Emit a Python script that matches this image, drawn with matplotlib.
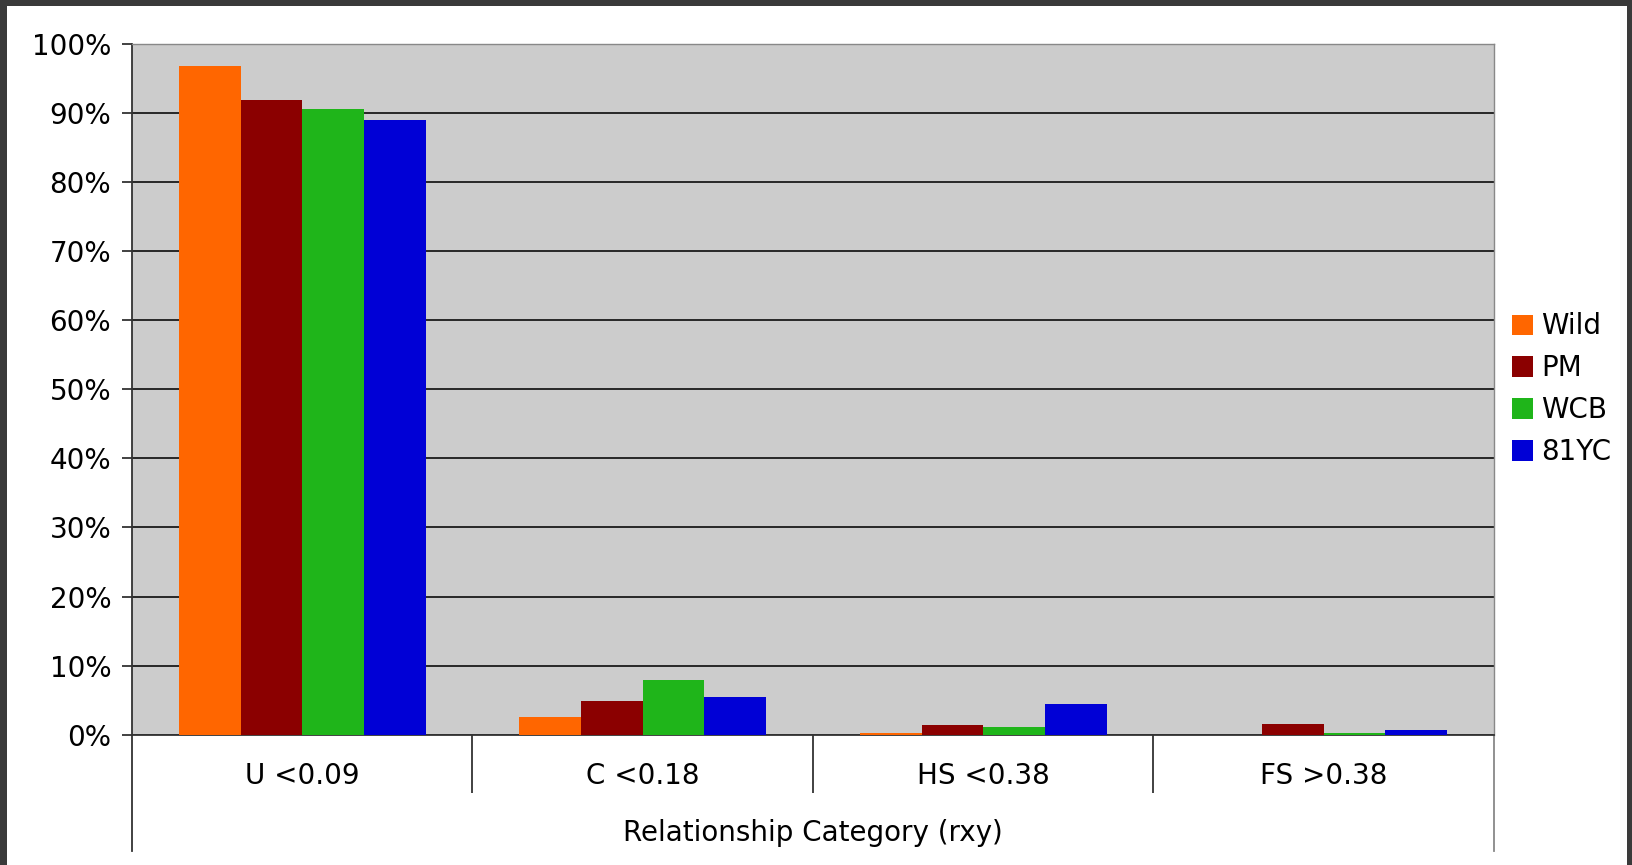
import matplotlib.pyplot as plt
from matplotlib.patches import Rectangle
from matplotlib.lines import Line2D
import numpy as np

categories = ['U <0.09', 'C <0.18', 'HS <0.38', 'FS >0.38']
series = ['Wild', 'PM', 'WCB', '81YC']
wild = [96.8, 2.5, 0.2, 0.0]
pm = [91.8, 4.9, 1.35, 1.6]
wcb = [90.6, 7.9, 1.1, 0.2]
yc81 = [89.0, 5.4, 4.4, 0.7]
colors = ['#ff6600', '#8b0000', '#1fb51a', '#0000d6']

W, H = 1633, 865
fig = plt.figure(figsize=(W / 100, H / 100), dpi=100, facecolor='#3a3a3a')
# white page inside the dark border
fig.patches.append(Rectangle((7 / W, 0), (1627 - 7) / W, (H - 6) / H,
                             transform=fig.transFigure, facecolor='white',
                             edgecolor='none', zorder=-10))

x0, x1, y0, y1 = 132, 1494, 734.7, 43.7
ax = fig.add_axes([x0 / W, (H - y0) / H, (x1 - x0) / W, (y0 - y1) / H])
ax.set_facecolor('#cccccc')

x = np.arange(len(categories))
bw = 0.181
for i, (name, vals) in enumerate(zip(series, [wild, pm, wcb, yc81])):
    ax.bar(x + (i - 1.5) * bw, vals, width=bw, color=colors[i], label=name,
           zorder=3, linewidth=0)

ax.set_xlim(-0.5, 3.5)
ax.set_ylim(0, 100)
ax.set_yticks(np.arange(0, 101, 10))
ax.set_yticklabels([f'{v}%' for v in range(0, 101, 10)], fontsize=20)
ax.yaxis.grid(True, color='#1a1a1a', linewidth=1.3, zorder=1)
ax.set_axisbelow(True)
ax.tick_params(axis='y', length=7, width=1.3, color='#333333', pad=8)

# two-level category axis
ax.set_xticks([0.5, 1.5, 2.5])
ax.set_xticklabels([])
ax.tick_params(axis='x', length=42, width=1.3, color='#333333')
ax.set_xticks(x, minor=True)
ax.set_xticklabels(categories, minor=True, fontsize=20)
ax.tick_params(axis='x', which='minor', length=0, pad=20)

for side in ('left', 'bottom'):
    ax.spines[side].set_color('#333333')
    ax.spines[side].set_linewidth(1.3)
for side in ('top', 'right'):
    ax.spines[side].set_color('#888888')
    ax.spines[side].set_linewidth(1.0)

ext = -(851 - y0) / (y0 - y1)
for xa, c in [(0, '#333333'), (1, '#888888')]:
    ax.add_line(Line2D([xa, xa], [0, ext], transform=ax.transAxes,
                       color=c, linewidth=1.3, clip_on=False))

ax.text(0.5, -(833 - y0) / (y0 - y1), 'Relationship Category (rxy)',
        transform=ax.transAxes, ha='center', va='center', fontsize=20)

leg = ax.legend(loc='center left', bbox_to_anchor=(1.005, 0.5), frameon=False,
                fontsize=20, handlelength=0.75, handleheight=0.75,
                handletextpad=0.3, labelspacing=0.5, borderaxespad=0)

fig.savefig('out.png', dpi=100, facecolor=fig.get_facecolor())
